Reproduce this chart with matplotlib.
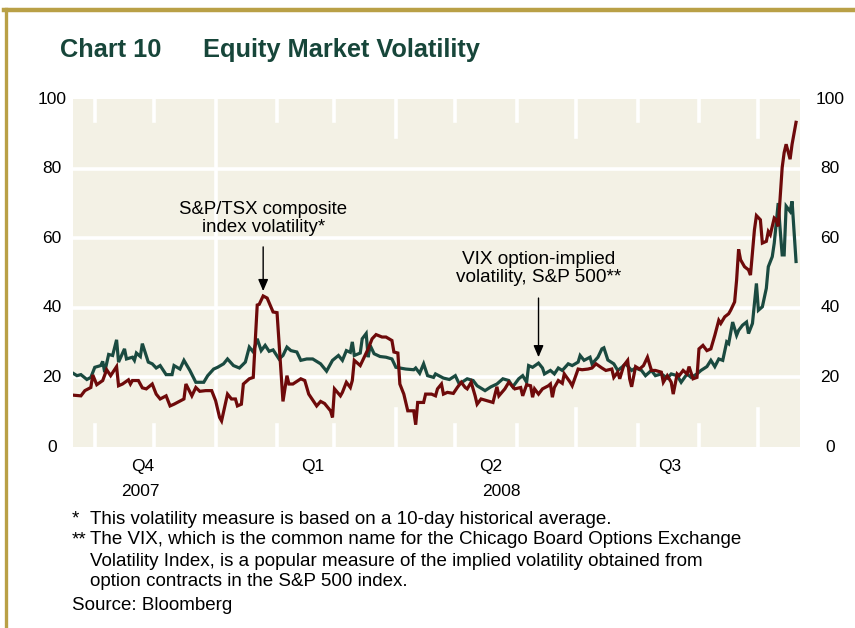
import numpy as np
import matplotlib
matplotlib.use("Agg")
import matplotlib.pyplot as plt
import matplotlib.dates as mdates
import matplotlib.transforms as mtransforms
from matplotlib.lines import Line2D

plt.rcParams['font.family'] = ['Liberation Sans', 'DejaVu Sans']

# ---------------- data ----------------
start_date = np.datetime64('2007-10-21')
end_date = np.datetime64('2008-10-22')

# VIX option-implied volatility, S&P 500 (days since start_date)
vix_days = [0, 2, 4, 7, 9, 11, 14, 15, 16, 18, 20, 22, 23, 26, 27, 30, 31, 32, 34, 35, 38, 40, 42, 44, 47, 50,
            51, 54, 56, 59, 62, 66, 68, 71, 73, 76, 78, 81, 84, 87, 89, 91, 93, 95, 97, 99, 101, 104, 106, 108,
            110, 113, 115, 118, 121, 125, 128, 131, 134, 136, 138, 140, 141, 142, 145, 146, 148, 149, 150, 152,
            155, 158, 161, 163, 165, 168, 172, 173, 175, 177, 179, 182, 183, 187, 190, 193, 195, 199, 202, 204,
            208, 211, 214, 217, 220, 222, 225, 227, 229, 230, 232, 235, 237, 238, 241, 243, 245, 247, 250, 252,
            255, 256, 258, 261, 262, 265, 267, 268, 270, 273, 275, 277, 279, 282, 284, 287, 289, 292, 294, 297,
            300, 302, 305, 307, 310, 312, 315, 317, 320, 322, 324, 326, 328, 330, 331, 333, 335, 336, 338, 340,
            341, 343, 345, 346, 348, 350, 351, 353, 354, 356, 357, 358, 359, 360, 362, 363, 365]
vix_vals = [21.2, 20.5, 20.8, 19.4, 20.0, 22.9, 23.4, 24.6, 21.5, 26.6, 26.3, 30.8, 24.4, 28.2, 25.3, 25.8, 24.9,
            27.0, 26.0, 29.7, 24.4, 23.9, 22.7, 23.4, 20.8, 20.8, 23.4, 22.4, 24.9, 22.0, 18.6, 18.6, 20.5, 22.4,
            22.9, 23.9, 25.3, 23.4, 22.7, 24.4, 28.7, 27.3, 31.1, 27.7, 29.2, 27.5, 27.9, 25.3, 26.3, 28.7, 27.7,
            27.3, 24.9, 25.3, 25.3, 23.9, 21.8, 24.9, 26.3, 24.9, 27.7, 27.2, 30.2, 26.3, 27.0, 31.1, 32.6, 25.8,
            29.2, 26.8, 26.0, 25.8, 25.3, 22.9, 22.7, 22.4, 22.2, 22.7, 21.2, 23.9, 20.5, 20.0, 21.0, 19.8, 19.4,
            20.5, 18.1, 19.6, 19.1, 17.6, 16.2, 17.3, 18.1, 19.6, 19.1, 17.3, 19.6, 20.5, 18.6, 23.4, 22.9, 24.1,
            22.7, 21.0, 22.0, 21.0, 22.7, 22.0, 23.9, 23.4, 24.4, 26.3, 24.9, 25.8, 23.9, 25.8, 28.2, 28.5, 25.0,
            23.9, 22.0, 22.9, 23.9, 22.0, 22.7, 22.0, 20.5, 22.0, 20.5, 21.0, 19.8, 21.0, 20.5, 18.6, 21.0, 20.0,
            21.0, 22.0, 23.1, 24.9, 23.1, 25.3, 24.9, 30.2, 29.7, 35.9, 32.1, 33.5, 35.0, 35.9, 32.6, 35.5, 47.0,
            39.3, 40.3, 45.6, 51.8, 54.7, 58.6, 70.1, 62.4, 55.2, 55.2, 69.2, 67.7, 70.6, 53.3]

# S&P/TSX composite index volatility (days since start_date)
tsx_days = [0, 4, 6, 9, 10, 12, 15, 17, 19, 22, 23, 25, 28, 29, 30, 33, 35, 37, 40, 42, 44, 47, 49, 51, 56, 57,
            60, 62, 64, 67, 70, 72, 74, 75, 78, 80, 82, 83, 85, 86, 89, 91, 93, 94, 96, 98, 101, 103, 106, 108,
            109, 111, 115, 117, 119, 123, 125, 127, 130, 131, 132, 135, 136, 138, 140, 141, 142, 145, 147, 149,
            151, 153, 156, 158, 161, 162, 164, 165, 167, 169, 172, 173, 174, 177, 178, 181, 183, 184, 186, 187,
            189, 192, 194, 196, 198, 199, 201, 203, 204, 206, 209, 212, 214, 215, 218, 220, 223, 226, 227, 229,
            231, 232, 233, 235, 237, 240, 241, 242, 243, 245, 247, 248, 251, 252, 255, 257, 260, 262, 264, 267,
            269, 272, 273, 275, 276, 278, 280, 281, 282, 284, 286, 288, 290, 292, 294, 297, 298, 300, 302, 303,
            305, 306, 308, 310, 311, 313, 315, 316, 318, 320, 322, 324, 326, 327, 329, 331, 332, 334, 335, 336,
            337, 339, 341, 342, 344, 345, 347, 348, 350, 351, 352, 354, 355, 356, 358, 359, 360, 362, 363, 365]
tsx_vals = [14.9, 14.7, 16.2, 17.1, 20.7, 17.9, 19.1, 22.2, 20.5, 23.1, 17.6, 18.1, 19.3, 18.1, 19.1, 19.1, 17.0,
            16.7, 18.1, 15.2, 13.8, 14.7, 11.8, 12.3, 13.8, 18.1, 14.7, 17.1, 16.0, 16.2, 16.2, 13.3, 8.5, 7.5,
            15.2, 13.8, 13.8, 11.8, 12.3, 18.1, 19.6, 20.0, 40.8, 41.0, 43.4, 42.8, 38.8, 38.6, 13.1, 20.5, 18.1,
            18.1, 19.6, 19.1, 15.2, 11.8, 13.1, 12.5, 10.4, 8.5, 16.7, 14.7, 15.7, 18.6, 17.1, 19.1, 24.9, 23.4,
            25.8, 28.2, 31.1, 32.3, 31.6, 31.6, 30.6, 27.3, 27.0, 18.1, 15.2, 10.4, 10.4, 6.4, 12.8, 12.8, 15.2,
            15.2, 14.7, 16.7, 18.1, 15.2, 15.7, 15.4, 17.1, 18.6, 17.1, 16.7, 18.6, 14.7, 12.3, 13.8, 13.3, 12.8,
            17.3, 14.7, 16.7, 18.6, 16.7, 17.1, 14.7, 17.9, 17.6, 14.3, 16.7, 15.2, 16.7, 17.6, 18.1, 14.3, 17.1,
            19.1, 18.3, 21.0, 18.6, 17.6, 22.4, 22.2, 22.4, 22.7, 23.9, 22.7, 22.0, 22.4, 20.0, 21.5, 19.6, 23.4,
            24.9, 19.6, 17.3, 23.1, 22.4, 23.4, 25.8, 22.0, 22.0, 21.5, 18.6, 20.5, 18.6, 15.2, 21.0, 20.5, 22.0,
            21.0, 23.1, 19.6, 20.0, 28.2, 29.2, 27.7, 28.2, 32.1, 36.4, 35.5, 37.4, 38.3, 39.3, 41.7, 48.0, 56.8,
            53.8, 51.8, 50.9, 49.4, 62.4, 66.5, 65.3, 58.6, 59.1, 61.9, 61.0, 65.8, 65.3, 63.4, 80.3, 84.6, 87.0,
            82.7, 87.0, 93.3]

y_ticks = [0, 20, 40, 60, 80, 100]
quarter_labels = ['Q4', 'Q1', 'Q2', 'Q3']
quarter_label_dates = ['2007-11-25', '2008-02-19', '2008-05-19', '2008-08-17']
year_labels = ['2007', '2008']
year_label_dates = ['2007-11-24', '2008-05-24']
month_starts = ['2007-11-01', '2007-12-01', '2008-01-01', '2008-02-01', '2008-03-01', '2008-04-01',
                '2008-05-01', '2008-06-01', '2008-07-01', '2008-08-01', '2008-09-01', '2008-10-01']
quarter_starts = ['2008-04-01', '2008-07-01', '2008-10-01']
year_starts = ['2008-01-01']

# ---------------- figure ----------------
W, H = 855, 628
fig = plt.figure(figsize=(W / 100, H / 100), dpi=100)
fig.patch.set_facecolor('white')

def fx(px):
    return px / W

def fy(py):
    return 1 - py / H

ax = fig.add_axes([fx(73), fy(447), fx(800) - fx(73), fy(99) - fy(447)])
ax.set_facecolor('#F3F1E5')
for s in ax.spines.values():
    s.set_visible(False)

to_dt = lambda days: start_date + np.array(days).astype('timedelta64[D]')

GREEN = '#1A4A40'
RED = '#6E0A0A'

ax.set_xlim(mdates.date2num(start_date), mdates.date2num(end_date))
ax.set_ylim(0, 100)

# grid lines
for v in y_ticks[1:-1]:
    ax.axhline(v, color='white', lw=2.6, zorder=1)
for d in month_starts:
    xd = mdates.date2num(np.datetime64(d))
    if d in year_starts:
        ax.axvline(xd, color='white', lw=2.6, zorder=1)
    elif d in quarter_starts:
        ax.axvline(xd, ymin=0, ymax=38 / 348, color='white', lw=2.6, zorder=1)
        ax.axvline(xd, ymin=1 - 38 / 348, ymax=1, color='white', lw=2.6, zorder=1)
    else:
        ax.axvline(xd, ymin=0, ymax=22 / 348, color='white', lw=2.6, zorder=1)
        ax.axvline(xd, ymin=1 - 22 / 348, ymax=1, color='white', lw=2.6, zorder=1)

ax.plot(mdates.date2num(to_dt(vix_days)), vix_vals, color=GREEN, lw=2.3, zorder=3, solid_joinstyle='miter')
ax.plot(mdates.date2num(to_dt(tsx_days)), tsx_vals, color=RED, lw=2.3, zorder=4, solid_joinstyle='miter')

ax.set_xticks([])
ax.set_yticks([])

# y labels on both sides
trans_l = mtransforms.blended_transform_factory(ax.transAxes, ax.transData)
for v in y_ticks:
    ax.text(-0.029, v, str(v), transform=trans_l, ha='center', va='center', fontsize=12.5, color='black',
            clip_on=False)
    ax.text(1.041, v, str(v), transform=trans_l, ha='center', va='center', fontsize=12.5, color='black',
            clip_on=False)

# x labels
trans_x = mtransforms.blended_transform_factory(ax.transData, fig.transFigure)
for lab, d in zip(quarter_labels, quarter_label_dates):
    ax.text(mdates.date2num(np.datetime64(d)), fy(467), lab, transform=trans_x, ha='center', va='center',
            fontsize=12.5, clip_on=False)
for lab, d in zip(year_labels, year_label_dates):
    ax.text(mdates.date2num(np.datetime64(d)), fy(492), lab, transform=trans_x, ha='center', va='center',
            fontsize=12.5, clip_on=False)

# annotations
def dn(days):
    return mdates.date2num(start_date + np.timedelta64(days, 'D'))

ax.annotate('', xy=(dn(96), 44.8), xytext=(dn(96), 57.5),
            arrowprops=dict(arrowstyle='-|>,head_length=0.7,head_width=0.3', color='black', lw=1.0,
                            shrinkA=0, shrinkB=0), zorder=6)
ax.text(dn(96), 65.7, 'S&P/TSX composite\nindex volatility*', ha='center', va='center', fontsize=13.4,
        linespacing=1.05, zorder=6)

ax.annotate('', xy=(dn(235), 25.8), xytext=(dn(235), 42.8),
            arrowprops=dict(arrowstyle='-|>,head_length=0.7,head_width=0.3', color='black', lw=1.0,
                            shrinkA=0, shrinkB=0), zorder=6)
ax.text(dn(235), 51.3, 'VIX option-implied\nvolatility, S&P 500**', ha='center', va='center', fontsize=13.7,
        linespacing=1.1, zorder=6)

# title
fig.text(fx(60), fy(50), 'Chart 10', fontsize=18.3, fontweight='bold', color='#17463A', va='center', ha='left')
fig.text(fx(203), fy(50), 'Equity Market Volatility', fontsize=18.3, fontweight='bold', color='#17463A',
         va='center', ha='left')

# footnotes
fs = 13.5
fig.text(fx(72), fy(519), '*', fontsize=fs, va='center')
fig.text(fx(90), fy(519), 'This volatility measure is based on a 10-day historical average.', fontsize=fs, va='center')
fig.text(fx(72), fy(540), '**', fontsize=fs, va='center')
fig.text(fx(90), fy(540), 'The VIX, which is the common name for the Chicago Board Options Exchange', fontsize=fs, va='center')
fig.text(fx(90), fy(561), 'Volatility Index, is a popular measure of the implied volatility obtained from', fontsize=fs, va='center')
fig.text(fx(90), fy(582), 'option contracts in the S&P 500 index.', fontsize=fs, va='center')
fig.text(fx(72), fy(605), 'Source: Bloomberg', fontsize=fs, va='center')

# gold frame (top and left)
GOLD = '#B9A046'
fig.add_artist(Line2D([fx(4), 1.0], [fy(10), fy(10)], color=GOLD, lw=3.2, transform=fig.transFigure))
fig.add_artist(Line2D([fx(6), fx(6)], [fy(8.5), 0.0], color=GOLD, lw=2.4, transform=fig.transFigure))

fig.savefig('out.png', dpi=100, facecolor='white')
